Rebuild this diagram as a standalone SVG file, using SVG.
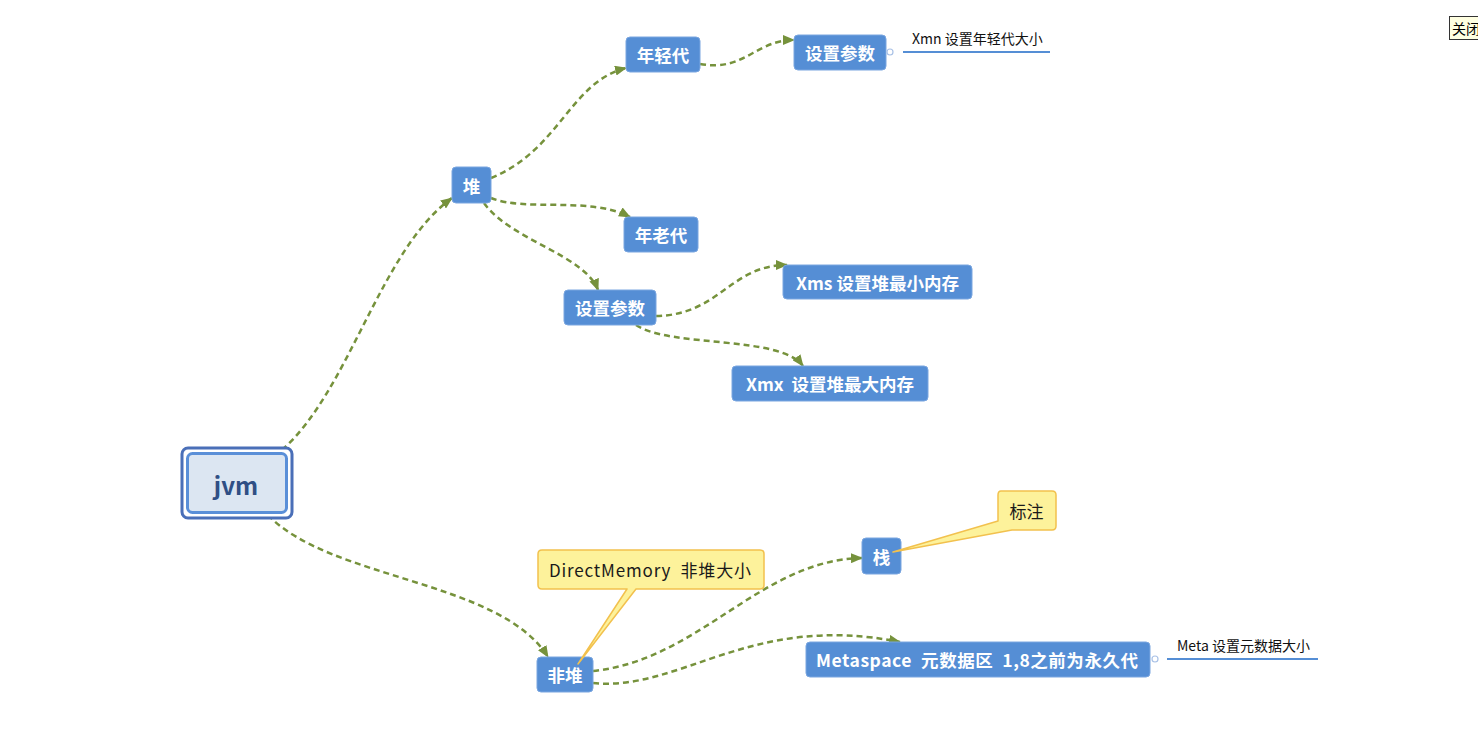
<svg xmlns="http://www.w3.org/2000/svg" width="1478" height="735" viewBox="0 0 1478 735">
<defs>
<style>
.node rect{fill:#558ed5;stroke:#7aa6e0;stroke-width:1}
.node text{fill:#ffffff;font-family:"Noto Sans CJK SC","Microsoft YaHei",sans-serif;font-weight:bold;font-size:17.5px;text-anchor:middle;dominant-baseline:central;white-space:pre}
.conn path{fill:none;stroke:#76923c;stroke-width:2.5;stroke-dasharray:6 4}
.callout .shape{fill:#fdf29b;stroke:#f2c14e;stroke-width:1.5;stroke-linejoin:round}
.callout text{fill:#1a1a1a;font-family:"Noto Sans CJK SC","Microsoft YaHei",sans-serif;font-size:17px;dominant-baseline:central;white-space:pre}
.label text{fill:#111;font-family:"Noto Sans CJK SC","Microsoft YaHei",sans-serif;font-size:14px}
.label line{stroke:#558ed5;stroke-width:2}
.label circle{fill:#fff;stroke:#a9c1e6;stroke-width:1.2}
</style>
<marker id="arr" viewBox="0 0 12 10" refX="11" refY="5" markerWidth="12" markerHeight="10" markerUnits="userSpaceOnUse" orient="auto">
<path d="M0,0 L12,5 L0,10 Z" fill="#76923c"/>
</marker>
</defs>
<rect width="1478" height="735" fill="#ffffff"/>

<g id="connectors" class="conn">
<path d="M282,450 C350,390 380,250 452,198" marker-end="url(#arr)"/>
<path d="M491,178 C560,150 570,82 626,68" marker-end="url(#arr)"/>
<path d="M700,64 C745,72 755,40 794,40" marker-end="url(#arr)"/>
<path d="M491,198 C525,212 590,196 630,217" marker-end="url(#arr)"/>
<path d="M484,203 C510,240 585,255 598,290" marker-end="url(#arr)"/>
<path d="M656,316 C720,315 730,265 787,265" marker-end="url(#arr)"/>
<path d="M636,325 C670,348 780,335 803,366" marker-end="url(#arr)"/>
<path d="M268,515 C330,580 500,580 548,657" marker-end="url(#arr)"/>
<path d="M593,671 C700,660 760,560 862,558" marker-end="url(#arr)"/>
<path d="M593,683 C680,692 750,612 900,642" marker-end="url(#arr)"/>
</g>

<g id="jvm">
<rect x="182" y="448" width="110" height="70" rx="6" fill="#ffffff" stroke="#4a6fb8" stroke-width="3"/>
<rect x="187.5" y="453.5" width="99" height="59" rx="5" fill="#dce6f2" stroke="#5a8fd8" stroke-width="3"/>
<text x="236" y="484" fill="#2f4f85" font-family="Noto Sans CJK SC, sans-serif" font-weight="bold" font-size="24" text-anchor="middle" dominant-baseline="central">jvm</text>
</g>

<g id="heap" class="node"><rect x="452" y="167" width="39" height="36" rx="4"/><text x="471.5" y="185">堆</text></g>
<g id="young" class="node"><rect x="626" y="37" width="74" height="35" rx="4"/><text x="663" y="54.5">年轻代</text></g>
<g id="young-param" class="node"><rect x="794" y="35" width="92" height="35" rx="4"/><text x="840" y="52.5">设置参数</text></g>
<g id="xmn-label" class="label">
<circle cx="890" cy="52" r="3"/>
<line x1="903" y1="52" x2="1050" y2="52"/>
<text x="912" y="44">Xmn 设置年轻代大小</text>
</g>
<g id="old" class="node"><rect x="624" y="217" width="74" height="35" rx="4"/><text x="661" y="234.5">年老代</text></g>
<g id="heap-param" class="node"><rect x="564" y="290" width="92" height="35" rx="4"/><text x="610" y="307.5">设置参数</text></g>
<g id="xms" class="node"><rect x="783" y="265" width="189" height="34" rx="4"/><text x="877.5" y="282">Xms 设置堆最小内存</text></g>
<g id="xmx" class="node"><rect x="732" y="366" width="196" height="35" rx="4"/><text x="830" y="383.5" xml:space="preserve">Xmx  设置堆最大内存</text></g>

<g id="nonheap" class="node"><rect x="537" y="657" width="56" height="35" rx="4"/><text x="565" y="674.5">非堆</text></g>
<g id="stack" class="node"><rect x="862" y="538" width="39" height="36" rx="4"/><text x="881.5" y="556">栈</text></g>
<g id="metaspace" class="node"><rect x="806" y="642" width="344" height="35" rx="4"/><text x="977" y="659.5" xml:space="preserve" textLength="322" lengthAdjust="spacing">Metaspace  元数据区  1,8之前为永久代</text></g>
<g id="meta-label" class="label">
<circle cx="1155" cy="659" r="3"/>
<line x1="1167" y1="659" x2="1318" y2="659"/>
<text x="1177" y="651">Meta 设置元数据大小</text>
</g>

<g id="callout-stack" class="callout">
<path class="shape" d="M1001,491 H1052 Q1056,491 1056,495 V526 Q1056,530 1052,530 H1012 L893,552 L998,521 V495 Q998,491 1001,491 Z"/>
<text x="1026.5" y="510.5" text-anchor="middle">标注</text>
</g>
<g id="callout-direct" class="callout">
<path class="shape" d="M542,550 H760 Q764,550 764,554 V585 Q764,589 760,589 H636 L578,664 L627,589 H542 Q538,589 538,585 V554 Q538,550 542,550 Z"/>
<text x="549" y="569.5" xml:space="preserve" textLength="202" lengthAdjust="spacing">DirectMemory  非堆大小</text>
</g>

<g id="close-btn">
<rect x="1449.5" y="16.5" width="32" height="23" fill="#ffffe1" stroke="#333" stroke-width="1"/>
<text x="1452" y="34" font-family="Noto Sans CJK SC, sans-serif" font-size="14" fill="#000">关闭</text>
</g>
</svg>
